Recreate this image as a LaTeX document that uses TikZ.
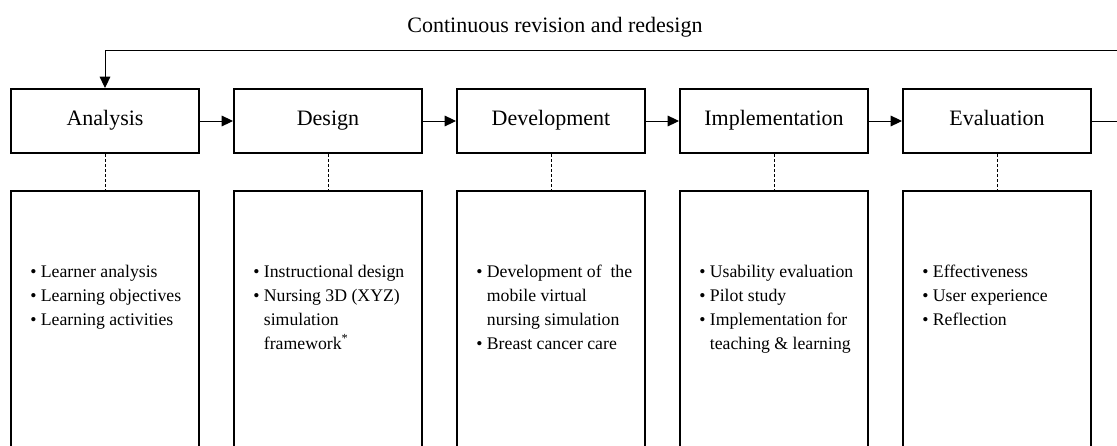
\documentclass[tikz,border=0pt]{standalone}
\usepackage{fontspec}
\setmainfont{Liberation Serif}
\usetikzlibrary{arrows.meta,positioning}

% hanging indent for wrapped bullet lines
\newcommand{\hang}{\hphantom{\textbullet\ }}

\begin{document}
\begin{tikzpicture}[x=0.75pt,y=-0.75pt]
	\tikzset{
		stage/.style={draw, line width=1.5pt, minimum width=141pt, minimum height=48pt,
			inner sep=0pt, text height=2ex, text depth=0.4ex,
			font=\fontsize{16.5}{20}\selectfont},
		detail/.style={draw, line width=1.5pt, minimum width=141pt, minimum height=225pt,
			anchor=north, inner sep=0pt},
		items/.style={anchor=north west, align=left, inner sep=0pt,
			font=\fontsize{13.3}{18}\selectfont},
		flow/.style={line width=0.75pt, -{Triangle[length=8.5pt,width=8pt]}},
		link/.style={line width=0.75pt, dash pattern=on 2.25pt off 1.5pt}
	}
	\useasboundingbox (0,0) rectangle (1117,446);

	\node [anchor=base, font=\fontsize{16.5}{20}\selectfont] (title) at (555,32) {Continuous revision and redesign};

	% ADDIE stages
	\node [stage] (ana) at (105,121) {Analysis};
	\node [stage] (des) at (328,121) {Design};
	\node [stage] (dev) at (551,121) {Development};
	\node [stage] (imp) at (774,121) {Implementation};
	\node [stage] (eva) at (997,121) {Evaluation};

	\draw [flow] (ana) -- (des);
	\draw [flow] (des) -- (dev);
	\draw [flow] (dev) -- (imp);
	\draw [flow] (imp) -- (eva);

	% feedback loop back to analysis
	\coordinate (turn) at (1135,50);
	\draw [flow] (eva) -| (turn) -| (ana);

	% detail boxes under each stage
	\node [detail] (ana-d) at (105,190) {};
	\node [detail] (des-d) at (328,190) {};
	\node [detail] (dev-d) at (551,190) {};
	\node [detail] (imp-d) at (774,190) {};
	\node [detail] (eva-d) at (997,190) {};

	\draw [link] (ana) -- (ana-d);
	\draw [link] (des) -- (des-d);
	\draw [link] (dev) -- (dev-d);
	\draw [link] (imp) -- (imp-d);
	\draw [link] (eva) -- (eva-d);

	\node [items] (ana-t) at (30,265) {\textbullet\ Learner analysis\\\textbullet\ Learning objectives\\\textbullet\ Learning activities};
	\node [items] (des-t) at (253,265) {\textbullet\ Instructional design\\\textbullet\ Nursing 3D (XYZ)\\\hang simulation\\\hang framework\textsuperscript{*}};
	\node [items] (dev-t) at (476,265) {\textbullet\ Development of~ the\\\hang mobile virtual\\\hang nursing simulation\\\textbullet\ Breast cancer care};
	\node [items] (imp-t) at (699,265) {\textbullet\ Usability evaluation\\\textbullet\ Pilot study\\\textbullet\ Implementation for\\\hang teaching \& learning};
	\node [items] (eva-t) at (922,265) {\textbullet\ Effectiveness\\\textbullet\ User experience\\\textbullet\ Reflection};
\end{tikzpicture}
\end{document}
